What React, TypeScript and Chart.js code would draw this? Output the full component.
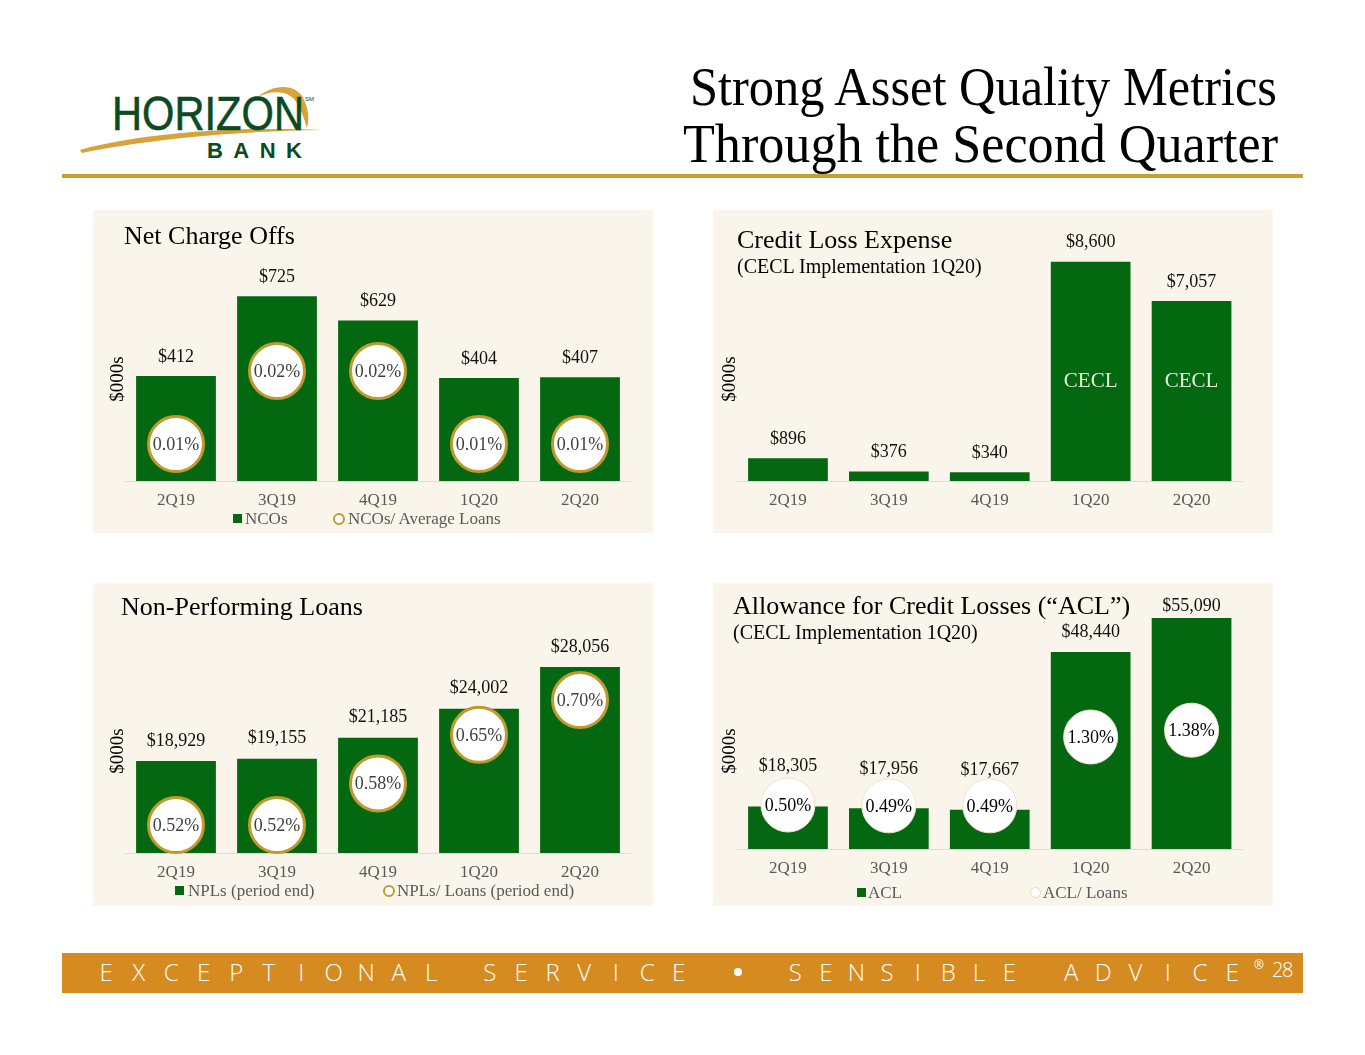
import React, { useEffect, useRef } from 'react';
import { Chart, registerables } from 'chart.js';

Chart.register(...registerables);

// ---------------- data ----------------
const quarters = ['2Q19', '3Q19', '4Q19', '1Q20', '2Q20'];
const ncoValues = [412, 725, 629, 404, 407];
const ncoRatio = [0.01, 0.02, 0.02, 0.01, 0.01];
const creditLossValues = [896, 376, 340, 8600, 7057];
const creditLossNotes = ['', '', '', 'CECL', 'CECL'];
const nplValues = [18929, 19155, 21185, 24002, 28056];
const nplRatio = [0.52, 0.52, 0.58, 0.65, 0.7];
const aclValues = [18305, 17956, 17667, 48440, 55090];
const aclRatio = [0.5, 0.49, 0.49, 1.3, 1.38];

// ---------------- styles ----------------
const SERIF = '"Liberation Serif", "DejaVu Serif", serif';
const SANS = '"Open Sans", "Liberation Sans", sans-serif';
const GREEN = '#036810';
const LOGO_GREEN = '#0c4a21';
const GOLD = '#c09a2e';
const CREAM = '#faf5ea';
const ORANGE = '#d58b1f';
const GRAY = '#595959';

type PanelCfg = {
  x: number;
  y: number;
  w: number;
  h: number;
  bars: number[];
  ratio?: number[];
  notes?: string[];
  yMin: number;
  yMax: number;
  y1Min?: number;
  y1Max?: number;
  pad: { left: number; right: number; top: number; bottom: number };
  ring: string;
  ringWidth: number;
  radius: number;
  ratioColor: string;
  offsets: number | number[];
};

const labelsPlugin = {
  id: 'panelLabels',
  afterDatasetsDraw(chart: any, _args: any, opts: any) {
    const ctx = chart.ctx;
    ctx.save();
    ctx.textAlign = 'center';
    ctx.textBaseline = 'middle';
    const barMeta = chart.getDatasetMeta(0);
    const barData = chart.data.datasets[0].data;
    const area = chart.chartArea;
    barMeta.data.forEach((bar: any, i: number) => {
      const off = Array.isArray(opts.offsets) ? opts.offsets[i] : opts.offsets;
      ctx.font = `18px ${SERIF}`;
      ctx.fillStyle = '#111111';
      ctx.fillText('$' + Number(barData[i]).toLocaleString('en-US'), bar.x, bar.y - off);
      if (opts.notes && opts.notes[i]) {
        ctx.font = `21px ${SERIF}`;
        ctx.fillStyle = '#e6f0dc';
        ctx.fillText(opts.notes[i], bar.x, (area.top + area.bottom) / 2 + 2);
      }
    });
    if (chart.data.datasets.length > 1) {
      const meta = chart.getDatasetMeta(1);
      const data = chart.data.datasets[1].data;
      meta.data.forEach((pt: any, i: number) => {
        ctx.font = `18px ${SERIF}`;
        ctx.fillStyle = opts.ratioColor;
        ctx.fillText(Number(data[i]).toFixed(2) + '%', pt.x, pt.y + 1);
      });
    }
    ctx.restore();
  },
};

function buildConfig(p: PanelCfg): any {
  const datasets: any[] = [
    {
      type: 'bar',
      label: 'bars',
      data: p.bars,
      base: p.yMin,
      backgroundColor: GREEN,
      borderWidth: 0,
      barPercentage: 0.79,
      categoryPercentage: 1,
      yAxisID: 'y',
      order: 2,
      clip: false,
    },
  ];
  if (p.ratio) {
    datasets.push({
      type: 'line',
      label: 'ratio',
      data: p.ratio,
      yAxisID: 'y1',
      showLine: false,
      order: 1,
      clip: false,
      pointRadius: p.radius,
      pointHoverRadius: p.radius,
      pointBackgroundColor: '#ffffff',
      pointBorderColor: p.ring,
      pointBorderWidth: p.ringWidth,
      pointHoverBorderWidth: p.ringWidth,
    });
  }
  const scales: any = {
    x: {
      grid: { display: false, drawTicks: false },
      border: { display: true, color: '#dcdcdc', width: 1 },
      ticks: { color: GRAY, font: { family: SERIF, size: 17 }, padding: 9 },
      afterFit: (s: any) => {
        s.height = 30;
      },
    },
    y: {
      min: p.yMin,
      max: p.yMax,
      grid: { display: false, drawTicks: false },
      border: { display: false },
      ticks: { display: false },
      title: { display: true, text: '$000s', color: '#000000', font: { family: SERIF, size: 19 }, padding: 0 },
      afterFit: (s: any) => {
        s.width = 19;
      },
    },
  };
  if (p.ratio) {
    scales.y1 = { display: false, min: p.y1Min, max: p.y1Max, position: 'right' };
  }
  return {
    type: 'bar',
    data: { labels: quarters, datasets },
    options: {
      responsive: false,
      animation: false,
      events: [],
      layout: { padding: p.pad, autoPadding: false },
      plugins: {
        legend: { display: false },
        tooltip: { enabled: false },
        panelLabels: { offsets: p.offsets, notes: p.notes, ratioColor: p.ratioColor },
      },
      scales,
    },
    plugins: [labelsPlugin],
  };
}

const panels: PanelCfg[] = [
  {
    x: 93, y: 210, w: 560, h: 323,
    bars: ncoValues, ratio: ncoRatio,
    yMin: 0, yMax: 800, y1Min: 0.00493, y1Max: 0.03288,
    pad: { left: 13.5, right: 22.5, top: 67, bottom: 22 },
    ring: GOLD, ringWidth: 3, radius: 27.5, ratioColor: '#404040', offsets: 19,
  },
  {
    x: 713, y: 210, w: 560, h: 323,
    bars: creditLossValues, notes: creditLossNotes,
    yMin: 0, yMax: 8000,
    pad: { left: 5.5, right: 31, top: 67, bottom: 22 },
    ring: GOLD, ringWidth: 3, radius: 27.5, ratioColor: '#404040', offsets: 19,
  },
  {
    x: 93, y: 583, w: 560, h: 323,
    bars: nplValues, ratio: nplRatio,
    yMin: 10000, yMax: 29800, y1Min: 0.4797, y1Max: 0.7736,
    pad: { left: 13.5, right: 22.5, top: 66, bottom: 23 },
    ring: GOLD, ringWidth: 3, radius: 27.5, ratioColor: '#404040', offsets: 20,
  },
  {
    x: 713, y: 583, w: 560, h: 323,
    bars: aclValues, ratio: aclRatio,
    yMin: 10000, yMax: 48260, y1Min: -0.0176, y1Max: 2.2882,
    pad: { left: 5.5, right: 31, top: 70, bottom: 27 },
    ring: '#ece3cc', ringWidth: 1, radius: 27, ratioColor: '#000000', offsets: [40, 39, 39, 20, 12],
  },
];

function PanelChart({ cfg }: { cfg: PanelCfg }) {
  const ref = useRef<HTMLCanvasElement>(null);
  useEffect(() => {
    if (!ref.current) return;
    const chart = new Chart(ref.current, buildConfig(cfg));
    return () => chart.destroy();
  }, [cfg]);
  return (
    <div style={{ position: 'absolute', left: cfg.x, top: cfg.y, width: cfg.w, height: cfg.h, background: CREAM }}>
      <canvas ref={ref} width={cfg.w} height={cfg.h} style={{ position: 'absolute', left: 0, top: 0, width: cfg.w, height: cfg.h }} />
    </div>
  );
}

function Txt({ x, baseline, size, color = '#000', family = SERIF, children }: any) {
  return (
    <div
      style={{
        position: 'absolute',
        left: x,
        top: baseline - 0.8375 * size,
        fontFamily: family,
        fontSize: size,
        lineHeight: size + 'px',
        color,
        whiteSpace: 'nowrap',
      }}
    >
      {children}
    </div>
  );
}

type LegendItem = { kind: 'square' | 'ring' | 'dot'; x: number; tx: number; label: string };

function Legend({ y, items }: { y: number; items: LegendItem[] }) {
  return (
    <>
      {items.map((it, i) => {
        let marker: any;
        if (it.kind === 'square') {
          marker = <div style={{ position: 'absolute', left: it.x, top: y - 4, width: 9, height: 9, background: GREEN }} />;
        } else if (it.kind === 'ring') {
          marker = (
            <div style={{ position: 'absolute', left: it.x, top: y - 5.5, width: 12, height: 12, boxSizing: 'border-box', borderRadius: '50%', border: `2.5px solid ${GOLD}`, background: '#fff' }} />
          );
        } else {
          marker = (
            <div style={{ position: 'absolute', left: it.x, top: y - 5, width: 11, height: 11, boxSizing: 'border-box', borderRadius: '50%', border: '1px solid #e3d8bc', background: '#fff' }} />
          );
        }
        return (
          <React.Fragment key={i}>
            {marker}
            <Txt x={it.tx} baseline={y + 6} size={17} color={GRAY}>
              {it.label}
            </Txt>
          </React.Fragment>
        );
      })}
    </>
  );
}

const footerWords = [
  { text: 'EXCEPTIONAL', x: 90, cell: 32.5 },
  { text: 'SERVICE', x: 474, cell: 31.5 },
  { text: 'SENSIBLE', x: 780, cell: 30.6 },
  { text: 'ADVICE', x: 1055, cell: 32.2 },
];

function Footer() {
  return (
    <>
      <div style={{ position: 'absolute', left: 62, top: 953, width: 1241, height: 40, background: ORANGE }} />
      {footerWords.map((w, i) => (
        <div key={i} style={{ position: 'absolute', left: w.x, top: 960, height: 24, lineHeight: '24px', fontFamily: SANS, fontWeight: 300, fontSize: 24, color: '#fff', whiteSpace: 'nowrap' }}>
          {w.text.split('').map((c, j) => (
            <span key={j} style={{ display: 'inline-block', width: w.cell, textAlign: 'center' }}>
              {c}
            </span>
          ))}
        </div>
      ))}
      <div style={{ position: 'absolute', left: 734, top: 968, width: 8, height: 8, borderRadius: '50%', background: '#fff' }} />
      <div style={{ position: 'absolute', left: 1254, top: 958, lineHeight: '14px', fontFamily: SANS, fontSize: 12, color: '#fff' }}>®</div>
      <div style={{ position: 'absolute', left: 1272, top: 959, lineHeight: '22px', fontFamily: SANS, fontWeight: 300, fontSize: 20, letterSpacing: -1.5, color: '#fff' }}>28</div>
    </>
  );
}

function Header() {
  return (
    <svg width={1365} height={200} style={{ position: 'absolute', left: 0, top: 0 }}>
      {/* logo swoosh */}
      <path d="M80,150 C140,133 240,126 322,130 C240,131 150,139 82,153 Z" fill="#d9a23a" />
      <path d="M258,97 C270,86 292,82 302,96 C308,106 310,118 307,128 C304,118 300,106 294,99 C285,90 270,91 258,97 Z" fill="#d9a23a" />
      <text x={112} y={130} fontFamily='"Liberation Sans", Arial, sans-serif' fontSize={49} fill={LOGO_GREEN} stroke={LOGO_GREEN} strokeWidth={0.6} textLength={192} lengthAdjust="spacingAndGlyphs">
        HORIZON
      </text>
      <text x={305} y={101} fontFamily='"Liberation Sans", Arial, sans-serif' fontSize={6} fill={LOGO_GREEN}>
        SM
      </text>
      <text x={207} y={158} fontFamily='"Liberation Sans", Arial, sans-serif' fontWeight="bold" fontSize={22} fill={LOGO_GREEN} textLength={95} lengthAdjust="spacing">
        BANK
      </text>
      {/* title */}
      <text x={1277} y={105} textAnchor="end" fontFamily={SERIF} fontSize={55} fill="#000" textLength={587} lengthAdjust="spacingAndGlyphs">
        Strong Asset Quality Metrics
      </text>
      <text x={1278} y={162} textAnchor="end" fontFamily={SERIF} fontSize={55} fill="#000" textLength={595} lengthAdjust="spacingAndGlyphs">
        Through the Second Quarter
      </text>
      <rect x={62} y={174} width={1241} height={4} fill="#c6a032" />
    </svg>
  );
}

export default function App() {
  return (
    <div style={{ position: 'absolute', left: 0, top: 0, width: 1365, height: 1055, background: '#ffffff', overflow: 'hidden' }}>
      <Header />
      {panels.map((p, i) => (
        <PanelChart key={i} cfg={p} />
      ))}
      <Txt x={124} baseline={245} size={26}>Net Charge Offs</Txt>
      <Txt x={737} baseline={249} size={26}>Credit Loss Expense</Txt>
      <Txt x={737} baseline={273} size={20}>(CECL Implementation 1Q20)</Txt>
      <Txt x={121} baseline={616} size={26}>Non-Performing Loans</Txt>
      <Txt x={733} baseline={615} size={26}>Allowance for Credit Losses (“ACL”)</Txt>
      <Txt x={733} baseline={639} size={20}>(CECL Implementation 1Q20)</Txt>
      <Legend
        y={518}
        items={[
          { kind: 'square', x: 233, tx: 245, label: 'NCOs' },
          { kind: 'ring', x: 333, tx: 348, label: 'NCOs/ Average Loans' },
        ]}
      />
      <Legend
        y={890}
        items={[
          { kind: 'square', x: 175, tx: 188, label: 'NPLs (period end)' },
          { kind: 'ring', x: 383, tx: 397, label: 'NPLs/ Loans (period end)' },
        ]}
      />
      <Legend
        y={892}
        items={[
          { kind: 'square', x: 857, tx: 868, label: 'ACL' },
          { kind: 'dot', x: 1030, tx: 1043, label: 'ACL/ Loans' },
        ]}
      />
      <Footer />
    </div>
  );
}
